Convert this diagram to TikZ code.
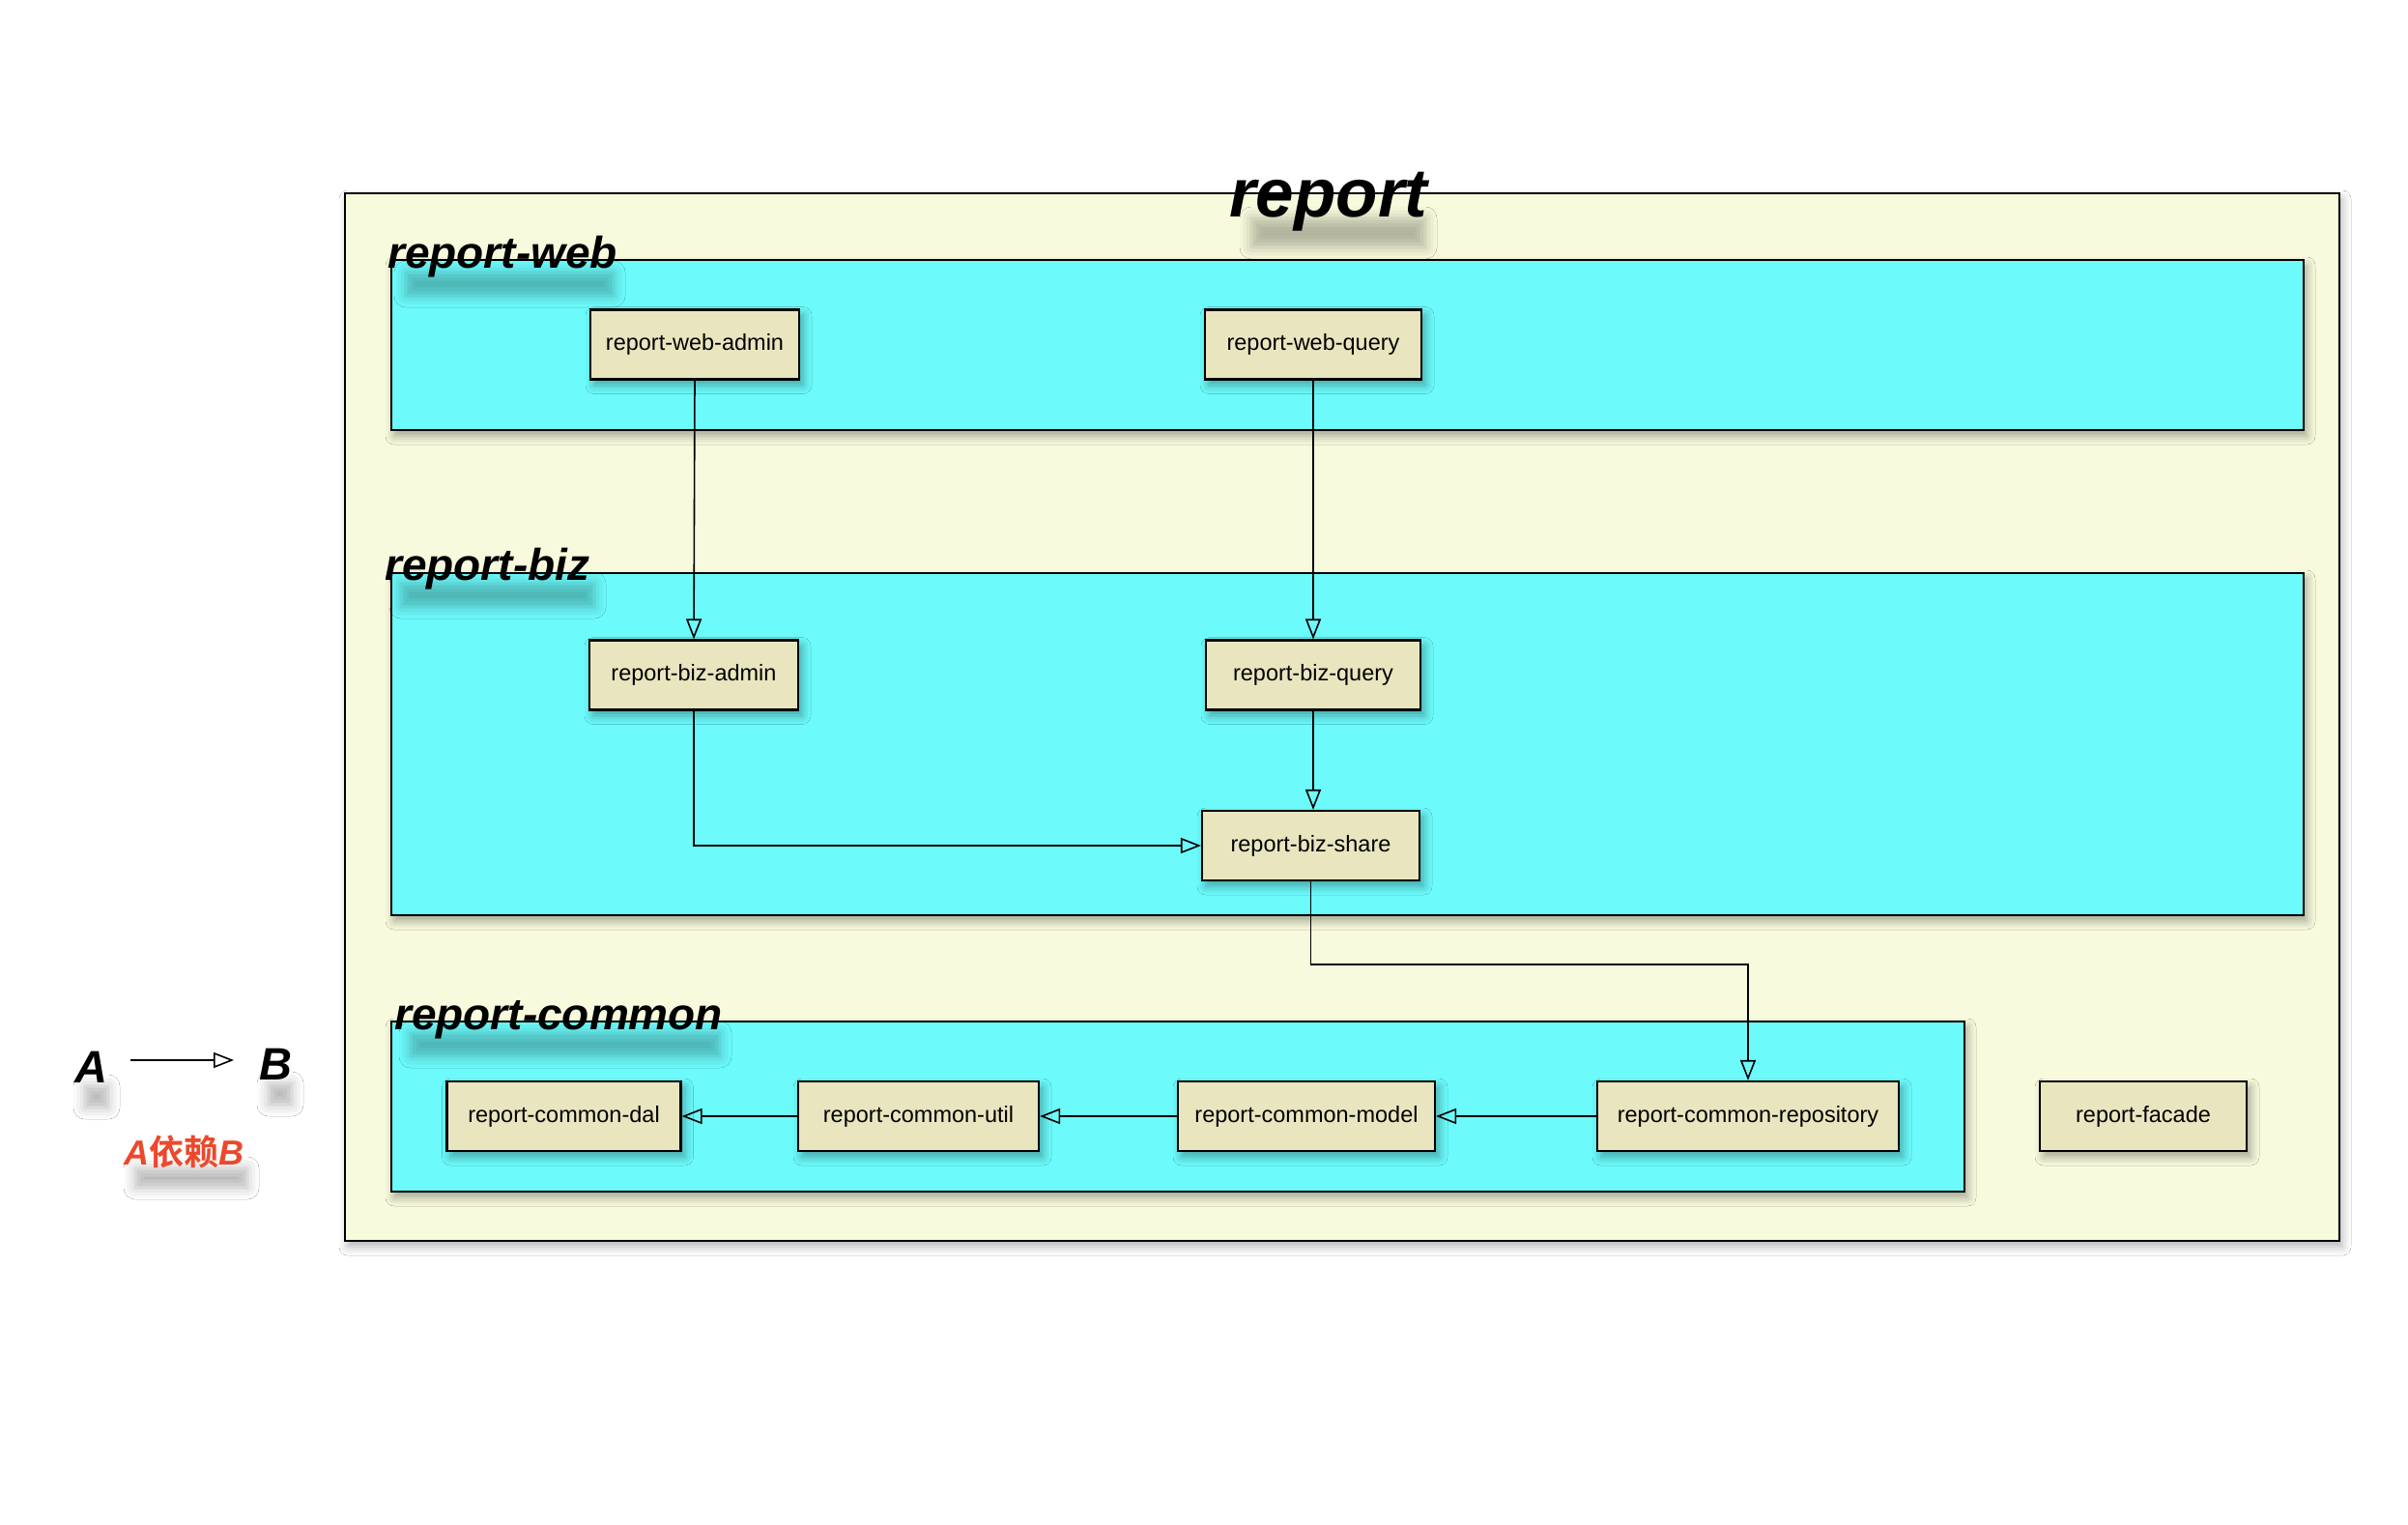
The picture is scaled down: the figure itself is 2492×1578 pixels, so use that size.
\documentclass[tikz,border=0pt]{standalone}
\usepackage{fontspec}
\setmainfont{Liberation Sans}
\newfontfamily\cjkfont{Noto Sans CJK SC}[BoldFont=* Bold]
\usetikzlibrary{arrows.meta,shadows.blur}
\definecolor{outerfill}{RGB}{247,250,220}
\definecolor{cyanfill}{RGB}{108,250,251}
\definecolor{boxfill}{RGB}{233,229,191}
\definecolor{legendred}{RGB}{236,72,44}
\tikzset{
  container/.style={draw=black, line width=2pt, fill=cyanfill,
    blur shadow={shadow xshift=3pt, shadow yshift=-6pt, shadow blur radius=9pt, shadow opacity=35}},
  outerbox/.style={draw=black, line width=2pt, fill=outerfill,
    blur shadow={shadow xshift=3pt, shadow yshift=-6pt, shadow blur radius=9pt, shadow opacity=30}},
  modbox/.style={draw=black, line width=2.2pt, fill=boxfill, inner sep=0pt,
    minimum height=72pt, font=\fontsize{23.5}{28}\selectfont,
    blur shadow={shadow xshift=4pt, shadow yshift=-6pt, shadow blur radius=9pt, shadow opacity=35}},
  dep/.style={line width=1.6pt, -{Triangle[open, length=21pt, width=16pt]}},
  grouplabel/.style={anchor=base west, inner sep=0pt, font=\fontsize{46}{50}\selectfont\bfseries\itshape},
  txtshadow/.style={blur shadow={shadow xshift=0pt, shadow yshift=0pt, shadow blur radius=12pt, shadow opacity=28}}
}
\begin{document}
\begin{tikzpicture}[x=1pt, y=-1pt]
\useasboundingbox[fill=white] (0,0) rectangle (2492,1578);

% outer package
\path[outerbox] (357,200) rectangle (2421,1284);

% containers
\path[container] (405,269) rectangle (2384,445);
\path[container] (405,593) rectangle (2384,947);
\path[container] (405,1057) rectangle (2033,1233);

% soft text shadows
\path[txtshadow] (1295,226) rectangle (1475,256);
\path[txtshadow] (420,282) rectangle (635,306);
\path[txtshadow] (415,604) rectangle (615,628);
\path[txtshadow] (425,1069) rectangle (745,1093);
\path[txtshadow] (88,1124) rectangle (112,1146);
\path[txtshadow] (278,1121) rectangle (302,1143);
\path[txtshadow] (140,1209) rectangle (256,1229);

% titles
\node[anchor=base west, inner sep=0pt, font=\fontsize{71}{76}\selectfont\bfseries\itshape] (title) at (1272,225) {report};
\node[grouplabel] (lweb) at (401,278) {report-web};
\node[grouplabel] (lbiz) at (398,600) {report-biz};
\node[grouplabel] (lcommon) at (408,1065) {report-common};

% modules
\node[modbox, minimum width=216pt] (wadmin) at (719,356.5) {report-web-admin};
\node[modbox, minimum width=224pt] (wquery) at (1359,356.5) {report-web-query};
\node[modbox, minimum width=216pt] (badmin) at (718,698.5) {report-biz-admin};
\node[modbox, minimum width=222pt] (bquery) at (1359,698.5) {report-biz-query};
\node[modbox, minimum width=225pt] (bshare) at (1356.5,875) {report-biz-share};
\node[modbox, minimum width=242pt] (dal) at (583.5,1155) {report-common-dal};
\node[modbox, minimum width=249pt] (util) at (950.5,1155) {report-common-util};
\node[modbox, minimum width=266pt] (model) at (1352,1155) {report-common-model};
\node[modbox, minimum width=312pt] (repo) at (1809,1155) {report-common-repository};
\node[modbox, minimum width=214pt] (facade) at (2218,1155) {report-facade};

% dependencies
\draw[dep] (wadmin.south) -- (badmin.north);
\draw[dep] (wquery.south) -- (bquery.north);
\draw[dep] (bquery.south) -- (bquery.south |- bshare.north);
\draw[dep] (badmin.south) |- (bshare.west);
\draw[dep] (bshare.south) -- ++(0,86) -| (repo.north);
\draw[dep] (repo.west) -- (model.east);
\draw[dep] (model.west) -- (util.east);
\draw[dep] (util.west) -- (dal.east);

% legend
\node[anchor=base west, inner sep=0pt, font=\fontsize{47}{50}\selectfont\bfseries\itshape] (la) at (77,1120) {A};
\node[anchor=base west, inner sep=0pt, font=\fontsize{47}{50}\selectfont\bfseries\itshape] (lb) at (268,1117) {B};
\coordinate (ls) at (135,1097);
\coordinate (le) at (242,1097);
\draw[dep] (ls) -- (le);
\node[anchor=base west, inner sep=0pt, text=legendred, font=\fontsize{36}{40}\selectfont\bfseries] (lnote) at (128,1205) {\itshape A\upshape\cjkfont 依赖\normalfont\bfseries\itshape B};
\end{tikzpicture}
\end{document}
